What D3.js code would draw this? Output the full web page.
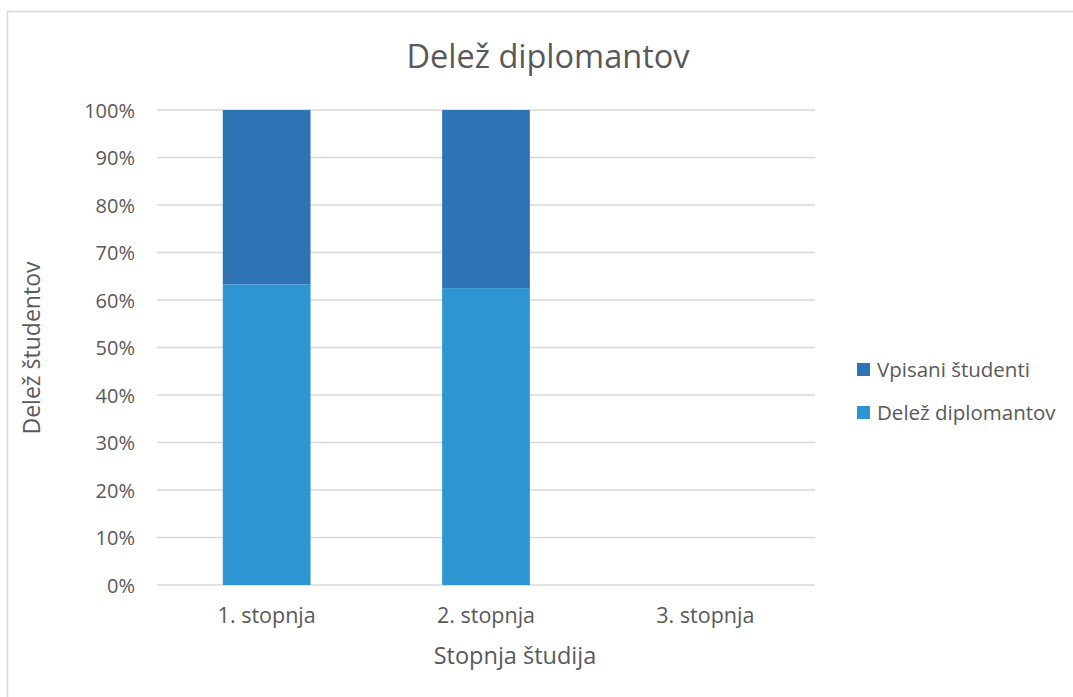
<!DOCTYPE html>
<html><head><meta charset="utf-8">
<script src="https://cdn.jsdelivr.net/npm/d3@7"></script>
<style>body{margin:0;background:#fff;} svg{display:block;font-family:"Open Sans",sans-serif;}</style>
</head><body>
<svg id="c" width="1073" height="697"></svg>
<script>
const categories = ["1. stopnja", "2. stopnja", "3. stopnja"];
const seriesNames = ["Delež diplomantov", "Vpisani študenti"];
const delezDiplomantov = [0.633, 0.625, 0];
const vpisaniStudenti = [0.367, 0.375, 0];
const yTicks = [0,0.1,0.2,0.3,0.4,0.5,0.6,0.7,0.8,0.9,1];
const colors = {"Delež diplomantov":"#2E95D3","Vpisani študenti":"#2E74B5"};

const svg = d3.select("#c");
svg.append("rect").attr("x",7.5).attr("y",11.5).attr("width",1080).attr("height",700)
  .attr("fill","#fff").attr("stroke","#d9d9d9").attr("stroke-width",1.5);

const x = d3.scaleBand().domain(categories).range([157,815]).paddingInner(0.6).paddingOuter(0.3);
const y = d3.scaleLinear().domain([0,1]).range([585,110]);

const g = svg.append("g");
g.selectAll("line.grid").data(yTicks).join("line").attr("class","grid")
  .attr("x1",157).attr("x2",815).attr("y1",d=>y(d)).attr("y2",d=>y(d))
  .attr("stroke","#d9d9d9").attr("stroke-width",1.5);

const rows = categories.map((c,i)=>({cat:c,"Delež diplomantov":delezDiplomantov[i],"Vpisani študenti":vpisaniStudenti[i]}));
const stack = d3.stack().keys(seriesNames)(rows);
g.selectAll("g.s").data(stack).join("g").attr("fill",d=>colors[d.key])
  .selectAll("rect").data(d=>d).join("rect")
  .attr("x",d=>x(d.data.cat)).attr("width",x.bandwidth())
  .attr("y",d=>y(d[1])).attr("height",d=>y(d[0])-y(d[1]));

const ya = d3.axisLeft(y).tickValues(yTicks).tickFormat(d3.format(".0%")).tickSize(0).tickPadding(0);
svg.append("g").attr("transform","translate(135,0)").call(ya)
  .call(s=>s.select(".domain").remove())
  .selectAll("text").attr("font-size",20).attr("fill","#595959").attr("font-family","Open Sans").attr("dy","0.35em").attr("x",0).attr("text-anchor","end");

const xa = d3.axisBottom(x).tickSize(0).tickPadding(0);
svg.append("g").attr("transform","translate(0,615)").call(xa)
  .call(s=>s.select(".domain").remove())
  .selectAll("text").attr("font-size",21.5).attr("fill","#595959").attr("font-family","Open Sans").attr("y",0).attr("dy","0.35em");

svg.append("text").attr("x",548).attr("y",68).attr("text-anchor","middle")
  .attr("font-size",32.5).attr("fill","#595959").text("Delež diplomantov");
svg.append("text").attr("x",515).attr("y",664).attr("text-anchor","middle")
  .attr("font-size",23.5).attr("fill","#595959").text("Stopnja študija");
svg.append("text").attr("transform","translate(40,348) rotate(-90)").attr("text-anchor","middle")
  .attr("font-size",23).attr("fill","#595959").text("Delež študentov");

const legend = [ "Vpisani študenti", "Delež diplomantov"];
const lg = svg.append("g").selectAll("g").data(legend).join("g")
  .attr("transform",(d,i)=>`translate(857,${363+i*43})`);
lg.append("rect").attr("width",13).attr("height",13).attr("fill",d=>colors[d]);
lg.append("text").attr("x",20).attr("y",6.5).attr("dy","0.35em").attr("font-size",20.5).attr("fill","#595959").text(d=>d);
</script>
</body></html>
